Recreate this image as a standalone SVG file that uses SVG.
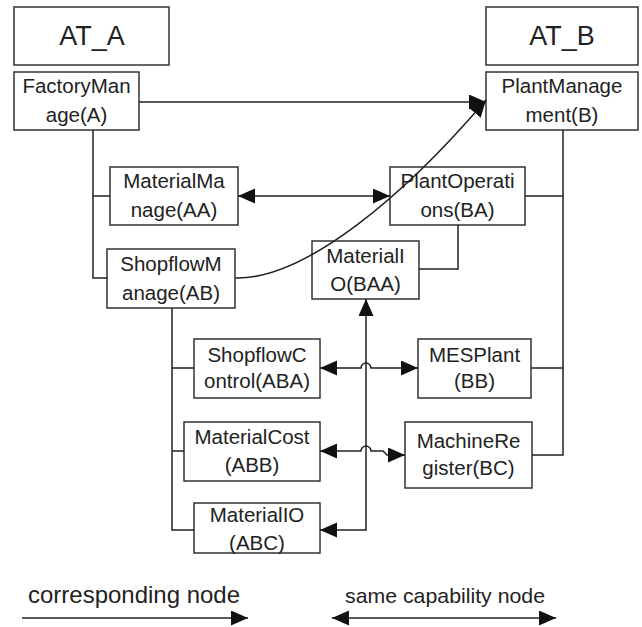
<svg xmlns="http://www.w3.org/2000/svg" width="642" height="627" viewBox="0 0 642 627">
  <style>
    .box { fill: #ffffff; stroke: #333333; stroke-width: 1.5; }
    .lbl { font-family: "Liberation Sans", Arial, sans-serif; font-size: 20.5px; fill: #222222; text-anchor: middle; }
    .title { font-family: "Liberation Sans", Arial, sans-serif; font-size: 27px; fill: #222222; text-anchor: middle; }
    .leg { font-family: "Liberation Sans", Arial, sans-serif; fill: #222222; }
    .ln { fill: none; stroke: #222222; stroke-width: 1.5; }
  </style>
  <defs>
    <marker id="head" markerUnits="userSpaceOnUse" markerWidth="18" markerHeight="16" refX="17" refY="7.5" orient="auto-start-reverse">
      <path d="M0,0 L17,7.5 L0,15 z" fill="#111111"/>
    </marker>
  </defs>
  <rect width="642" height="627" fill="#ffffff"/>

  <!-- tree headers -->
  <g id="AT_A">
    <rect class="box" x="14" y="7" width="155" height="58"/>
    <text class="title" x="92" y="45">AT_A</text>
  </g>
  <g id="AT_B">
    <rect class="box" x="486" y="7" width="152" height="58"/>
    <text class="title" x="562" y="45">AT_B</text>
  </g>

  <!-- nodes of tree A -->
  <g id="A">
    <rect class="box" x="14" y="72" width="125" height="58"/>
    <text class="lbl" x="76.5" y="93">FactoryMan</text>
    <text class="lbl" x="76.5" y="122">age(A)</text>
  </g>
  <g id="AA">
    <rect class="box" x="110" y="167" width="128" height="58"/>
    <text class="lbl" x="174" y="188">MaterialMa</text>
    <text class="lbl" x="174" y="217">nage(AA)</text>
  </g>
  <g id="AB">
    <rect class="box" x="107" y="249" width="128" height="59"/>
    <text class="lbl" x="171" y="271">ShopflowM</text>
    <text class="lbl" x="171" y="300">anage(AB)</text>
  </g>
  <g id="ABA">
    <rect class="box" x="194" y="339" width="126" height="59"/>
    <text class="lbl" x="257" y="362">ShopflowC</text>
    <text class="lbl" x="257" y="388">ontrol(ABA)</text>
  </g>
  <g id="ABB">
    <rect class="box" x="184" y="422" width="136" height="59"/>
    <text class="lbl" x="252" y="444">MaterialCost</text>
    <text class="lbl" x="252" y="472">(ABB)</text>
  </g>
  <g id="ABC">
    <rect class="box" x="194" y="503" width="126" height="50"/>
    <text class="lbl" x="257" y="522">MaterialIO</text>
    <text class="lbl" x="257" y="550">(ABC)</text>
  </g>

  <!-- nodes of tree B -->
  <g id="B">
    <rect class="box" x="486" y="72" width="152" height="58"/>
    <text class="lbl" x="562" y="93">PlantManage</text>
    <text class="lbl" x="562" y="122">ment(B)</text>
  </g>
  <g id="BA">
    <rect class="box" x="390" y="167" width="135" height="58"/>
    <text class="lbl" x="457.5" y="188">PlantOperati</text>
    <text class="lbl" x="457.5" y="217">ons(BA)</text>
  </g>
  <g id="BAA">
    <rect class="box" x="312" y="241" width="107" height="58"/>
    <text class="lbl" x="365.5" y="263">MaterialI</text>
    <text class="lbl" x="365.5" y="291">O(BAA)</text>
  </g>
  <g id="BB">
    <rect class="box" x="418" y="339" width="113" height="59"/>
    <text class="lbl" x="474.5" y="362">MESPlant</text>
    <text class="lbl" x="474.5" y="388">(BB)</text>
  </g>
  <g id="BC">
    <rect class="box" x="405" y="422" width="127" height="66"/>
    <text class="lbl" x="468.5" y="448">MachineRe</text>
    <text class="lbl" x="468.5" y="475">gister(BC)</text>
  </g>

  <!-- connectors, drawn over the boxes -->
  <g id="connectors">
    <!-- hierarchy lines, tree A -->
    <path class="ln" d="M93,130 V278 H107 M93,196 H110"/>
    <path class="ln" d="M172,308 V530 H194 M172,368 H194 M172,451 H184"/>
    <!-- hierarchy lines, tree B -->
    <path class="ln" d="M563,130 V455 H532 M525,196 H563 M531,368 H563"/>
    <path class="ln" d="M458,225 V269 H419"/>
    <!-- corresponding nodes -->
    <path class="ln" d="M139,102 H486" marker-end="url(#head)"/>
    <path class="ln" d="M235,278 C305,280 405,195 486,100" marker-end="url(#head)"/>
    <!-- same capability nodes -->
    <path class="ln" d="M238,196 H390" marker-start="url(#head)" marker-end="url(#head)"/>
    <path class="ln" d="M320,368 H361 A5,5 0 0 1 371,368 H418" marker-start="url(#head)" marker-end="url(#head)"/>
    <path class="ln" d="M320,451 H361 A5,5 0 0 1 371,451 H383 L387,455 H405" marker-start="url(#head)" marker-end="url(#head)"/>
    <path class="ln" d="M366,299 V530 H320" marker-start="url(#head)" marker-end="url(#head)"/>
  </g>

  <!-- legend -->
  <g id="legend">
    <text class="leg" x="28" y="603" font-size="24" textLength="212" lengthAdjust="spacingAndGlyphs">corresponding node</text>
    <path class="ln" d="M22,618 H248" marker-end="url(#head)"/>
    <text class="leg" x="345" y="603" font-size="21" textLength="200" lengthAdjust="spacingAndGlyphs">same capability node</text>
    <path class="ln" d="M332,618 H556" marker-start="url(#head)" marker-end="url(#head)"/>
  </g>
</svg>
